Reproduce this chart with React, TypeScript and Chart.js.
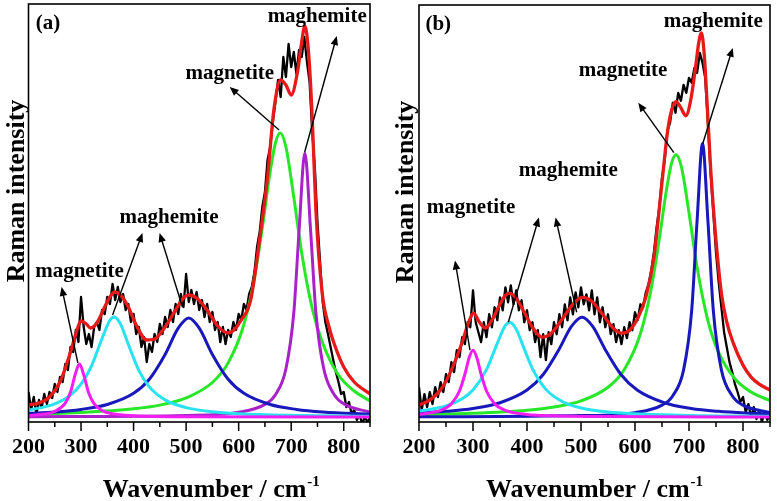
import React, { useEffect, useRef } from "react";
import { Chart, registerables } from "chart.js";

Chart.register(...registerables);

const FONT = '"Liberation Serif", "Times New Roman", serif';

// ---------- axis ticks ----------
const xMajorTicks = [200, 300, 400, 500, 600, 700, 800];
const xAllTicks = [200, 250, 300, 350, 400, 450, 500, 550, 600, 650, 700, 750, 800, 850];

// ---------- measured spectrum (both panels share the wavenumber grid) ----------
const blackX = [200,205,210,215,220,225,230,235,240,245,250,255,260,265,270,275,280,285,290,295,300,305,310,315,320,325,330,335,340,345,350,355,360,365,370,375,380,385,390,395,400,405,410,415,420,425,430,435,440,445,450,455,460,465,470,475,480,485,490,495,500,505,510,515,520,525,530,535,540,545,550,555,560,565,570,575,580,585,590,595,600,605,610,615,620,625,630,635,640,645,650,655,660,665,670,675,680,685,690,695,700,705,710,715,720,725,730,735,740,745,750,755,760,765,770,775,780,785,790,795,800,805,810,815,820,825,830,835,840,845,850];

const blackA = [30,12,25,8,22,14,28,18,30,24,38,30,45,40,58,52,75,70,92,80,125,95,78,88,75,95,100,92,112,108,125,118,138,122,135,120,128,112,118,100,108,88,95,75,85,60,78,70,88,80,98,88,105,95,112,100,118,108,128,115,148,120,132,118,130,112,122,105,118,100,110,92,100,80,95,78,92,85,100,92,108,102,118,112,128,135,150,175,190,215,230,262,275,300,320,342,325,365,345,378,355,370,348,372,365,385,360,340,290,255,200,160,120,100,88,75,62,50,40,28,30,15,20,8,12,2,8,-2,5,0,4];

const blackB = [35,12,28,15,30,18,35,25,40,30,48,40,60,50,72,65,85,78,100,95,132,100,90,80,100,85,108,95,115,102,125,112,135,120,137,118,132,112,122,100,112,92,100,80,92,65,88,62,90,78,100,88,108,95,118,102,125,108,130,115,135,118,128,112,132,108,125,100,115,95,108,88,98,80,92,78,95,84,100,92,110,102,118,115,130,138,152,170,195,215,245,262,292,300,320,310,330,322,338,330,345,340,355,350,370,360,345,300,250,210,170,140,115,90,75,60,50,38,30,20,25,10,18,5,15,3,12,0,10,2,8];

// ---------- panel (a) fitted curves ----------
const fitA_x = [200,220,240,260,280,290,300,310,318,330,345,355,364,375,390,405,425,440,460,480,495,505,520,540,560,580,591,605,623,639,655,667,680,690,700,712,720,726,733,740,747,759,772,782,800,820,850];
const fitA_y = [17,19,25,40,70,88,101,98,94,99,115,125,130,127,115,97,82,83,95,112,124,127,124,112,96,89,92,102,122,179,245,312,342,337,327,350,380,396,370,305,212,129,95,78,55,40,28];

const mag300A_x = [200,230,250,270,280,290,297,305,315,325,340,360,400,500,850];
const mag300A_y = [6.4,7.9,10.5,18.8,29.9,49.5,58,47.4,28.4,18.1,11.4,8.2,6.3,5.3,5];

const cyan365A_x = [200,250,280,300,320,340,355,363,375,390,410,430,460,500,550,600,700,850];
const cyan365A_y = [11.8,18.2,26.9,37.8,56.2,83.5,101.8,105,98.1,77.6,51.7,35.1,22.1,14.4,10.2,8.3,6.7,5.8];

const blue505A_x = [200,250,300,350,400,430,460,485,505,525,550,580,610,660,710,760,850];
const blue505A_y = [8.6,10,12.6,17.5,28.7,42.8,67.6,93.8,104,93.8,67.6,42.8,28.7,17.5,12.6,10,7.8];

const green679A_x = [200,300,400,450,500,550,580,610,630,645,660,670,679,690,705,720,740,760,790,820,850];
const green679A_y = [7.8,9.5,13.2,16.9,24.1,39.5,59.1,97.5,144,194,250.5,279,289,275,224.6,169,113.6,78.8,47,31,21];

const violet726A_x = [200,500,600,650,670,690,705,715,726,737,747,762,782,802,850];
const violet726A_y = [5.3,6.5,9.7,17.6,27.3,53.2,109.5,191,269,191,109.5,53.2,27.3,17.6,9.9];

// ---------- panel (b) fitted curves ----------
const fitB_x = [200,220,240,260,280,292,301,312,323,335,350,360,368,380,395,410,428,445,465,485,502,520,540,560,575,590,605,620,635,650,660,668,676,685,694,703,712,718,723,728,733,740,748,760,770,782,800,815,830,850];
const fitB_y = [17,22,32,52,80,100,109,100,94,102,118,127,129,124,110,95,85,89,103,118,125,121,108,94,89,92,104,125,165,240,290,313,321,315,307,322,355,380,390,370,325,255,195,129,100,79,57,45,38,32];

const mag300B_x = [200,240,260,275,285,293,300,307,315,325,340,360,400,450,550,850];
const mag300B_y = [7.6,11.7,18.4,31.1,47.9,64.7,72,64.7,47.9,31.1,18.4,11.7,7.6,6.2,5.4,5];

const cyan368B_x = [200,250,280,300,325,345,360,368,380,395,411,435,465,500,550,600,700,850];
const cyan368B_y = [10.8,16.1,23.3,32.1,52.5,78.9,96.8,100,93.1,73.1,52.5,32.7,20.6,14.1,10,8.2,6.6,5.75];

const blue502B_x = [200,250,300,350,400,430,460,482,502,522,544,574,604,654,704,754,804,850];
const blue502B_y = [9,10.7,13.6,19.3,32,47.6,73.5,95.6,105,95.6,73.5,47.6,32,19.3,13.6,10.7,9,8.1];

const green676B_x = [200,300,400,450,500,550,580,610,630,645,658,668,676,686,700,715,735,755,785,815,850];
const green676B_y = [7.3,8.7,11.8,15,21.1,34.8,52.4,88.5,133.6,183.3,231.7,260,268,255.7,209.8,155.2,101.7,69.5,43.3,30,21.5];

const blue725B_x = [200,500,600,650,670,690,705,715,725,735,745,760,780,800,850];
const blue725B_y = [5.25,6.4,9.4,16.9,26.4,52.3,111.9,202,279,202,111.9,52.3,26.4,16.9,9.4];

// ---------- annotations (data coordinates: [wavenumber, intensity]) ----------
type Pt = [number, number];
type Arrow = { from: Pt; to: Pt };
type Label = { text: string; at: Pt; size: number };

const arrowsA: Arrow[] = [
  { from: [294, 59], to: [263, 135] },
  { from: [360, 107], to: [417, 189] },
  { from: [493, 115], to: [449.5, 189] },
  { from: [677, 292], to: [583, 335] },
  { from: [725.7, 270], to: [786.7, 386] },
];
const labelsA: Label[] = [
  { text: "(a)", at: [237, 393], size: 21 },
  { text: "maghemite", at: [749.5, 400], size: 21 },
  { text: "magnetite", at: [583, 343], size: 21 },
  { text: "maghemite", at: [467.6, 199], size: 21 },
  { text: "magnetite", at: [297, 145], size: 21 },
];

const arrowsB: Arrow[] = [
  { from: [294.4, 72], to: [266.7, 162] },
  { from: [365.4, 100], to: [422, 205] },
  { from: [492, 110], to: [453, 205] },
  { from: [672, 270], to: [606, 320] },
  { from: [725.4, 279], to: [781, 375] },
];
const labelsB: Label[] = [
  { text: "(b)", at: [235.7, 393], size: 21 },
  { text: "maghemite", at: [745, 396], size: 21 },
  { text: "magnetite", at: [577.8, 347], size: 21 },
  { text: "maghemite", at: [476.5, 247], size: 21 },
  { text: "magnetite", at: [296.3, 210], size: 21 },
];

const C_BLACK = "#000000";
const C_RED = "#e61a1a";
const C_MAGENTA = "#f01ef0";
const C_CYAN = "#28e2f0";
const C_BLUE = "#1818bc";
const C_GREEN = "#28e628";
const C_VIOLET = "#a822c8";

function zip(xs: number[], ys: number[]) {
  return xs.map((x, i) => ({ x, y: ys[i] }));
}

const decorPlugin = {
  id: "decor",
  afterDraw(chart: any, _args: any, opts: any) {
    const ctx: CanvasRenderingContext2D = chart.ctx;
    const area = chart.chartArea;
    const xs = chart.scales.x;
    const ys = chart.scales.y;
    ctx.save();
    ctx.strokeStyle = "#000";
    ctx.fillStyle = "#000";

    // frame
    ctx.lineWidth = 1.6;
    ctx.strokeRect(area.left, area.top, area.right - area.left, area.bottom - area.top);

    // outward ticks
    ctx.lineWidth = 1.5;
    for (const v of xAllTicks) {
      const px = xs.getPixelForValue(v);
      const len = v % 100 === 0 ? 9 : 5;
      ctx.beginPath();
      ctx.moveTo(px, area.bottom);
      ctx.lineTo(px, area.bottom + len);
      ctx.stroke();
    }

    // arrows
    ctx.lineWidth = 1.4;
    for (const a of opts.arrows as Arrow[]) {
      const x1 = xs.getPixelForValue(a.from[0]);
      const y1 = ys.getPixelForValue(a.from[1]);
      const x2 = xs.getPixelForValue(a.to[0]);
      const y2 = ys.getPixelForValue(a.to[1]);
      const ang = Math.atan2(y2 - y1, x2 - x1);
      const L = 9, W = 3.8;
      const c = Math.cos(ang), s = Math.sin(ang);
      ctx.beginPath();
      ctx.moveTo(x1, y1);
      ctx.lineTo(x2 - (L - 2) * c, y2 - (L - 2) * s);
      ctx.stroke();
      ctx.beginPath();
      ctx.moveTo(x2, y2);
      ctx.lineTo(x2 - L * c + W * s, y2 - L * s - W * c);
      ctx.lineTo(x2 - L * c - W * s, y2 - L * s + W * c);
      ctx.closePath();
      ctx.fill();
    }

    // labels
    ctx.textAlign = "center";
    ctx.textBaseline = "alphabetic";
    for (const l of opts.labels as Label[]) {
      ctx.font = `bold ${l.size}px ${FONT}`;
      ctx.fillText(l.text, xs.getPixelForValue(l.at[0]), ys.getPixelForValue(l.at[1]));
    }

    // x title with superscript
    const main = "Wavenumber / cm";
    const sup = "-1";
    ctx.font = `bold 26px ${FONT}`;
    const mw = ctx.measureText(main).width;
    ctx.font = `bold 15px ${FONT}`;
    const sw = ctx.measureText(sup).width;
    const cx = (area.left + area.right) / 2 + opts.titleShift;
    const x0 = cx - (mw + sw + 1) / 2;
    ctx.textAlign = "left";
    ctx.font = `bold 26px ${FONT}`;
    ctx.fillText(main, x0, area.bottom + 75);
    ctx.font = `bold 15px ${FONT}`;
    ctx.fillText(sup, x0 + mw + 1, area.bottom + 64);

    // y title
    ctx.translate(area.left - opts.yTitleGap, area.top + 187);
    ctx.rotate(-Math.PI / 2);
    ctx.textAlign = "center";
    ctx.font = `bold 26px ${FONT}`;
    ctx.fillText("Raman intensity", 0, 0);
    ctx.restore();
  },
};

type Spec = {
  curves: { xs: number[]; ys: number[]; color: string; width: number; smooth: boolean }[];
  arrows: Arrow[];
  labels: Label[];
  yWidth: number;
  padTop: number;
  padRight: number;
  titleShift: number;
  yTitleGap: number;
};

function buildConfig(spec: Spec): any {
  return {
    type: "line",
    data: {
      datasets: spec.curves.map((c) => ({
        data: zip(c.xs, c.ys),
        borderColor: c.color,
        borderWidth: c.width,
        pointRadius: 0,
        fill: false,
        tension: 0,
        borderJoinStyle: "round",
        cubicInterpolationMode: c.smooth ? "monotone" : "default",
      })),
    },
    options: {
      animation: false,
      responsive: false,
      maintainAspectRatio: false,
      events: [],
      layout: { padding: { left: 0, right: spec.padRight, top: spec.padTop, bottom: 0 } },
      plugins: {
        legend: { display: false },
        tooltip: { enabled: false },
        decor: {
          arrows: spec.arrows,
          labels: spec.labels,
          titleShift: spec.titleShift,
          yTitleGap: spec.yTitleGap,
        },
      },
      scales: {
        x: {
          type: "linear",
          min: 200,
          max: 850,
          afterBuildTicks: (axis: any) => {
            axis.ticks = xMajorTicks.map((v) => ({ value: v }));
          },
          afterFit: (s: any) => {
            s.height = 79;
          },
          grid: { display: false, drawTicks: false },
          border: { display: false },
          ticks: {
            color: "#000",
            padding: 12,
            maxRotation: 0,
            autoSkip: false,
            font: { family: FONT, size: 22, weight: "bold" },
          },
        },
        y: {
          type: "linear",
          min: 0,
          max: 418,
          afterFit: (s: any) => {
            s.width = spec.yWidth;
          },
          grid: { display: false, drawTicks: false },
          border: { display: false },
          ticks: { display: false },
        },
      },
    },
    plugins: [decorPlugin],
  };
}

const specA: Spec = {
  curves: [
    { xs: fitA_x, ys: fitA_y, color: C_RED, width: 3.3, smooth: true },
    { xs: mag300A_x, ys: mag300A_y, color: C_MAGENTA, width: 3, smooth: true },
    { xs: cyan365A_x, ys: cyan365A_y, color: C_CYAN, width: 3, smooth: true },
    { xs: blue505A_x, ys: blue505A_y, color: C_BLUE, width: 3, smooth: true },
    { xs: violet726A_x, ys: violet726A_y, color: C_VIOLET, width: 3, smooth: true },
    { xs: green679A_x, ys: green679A_y, color: C_GREEN, width: 3, smooth: true },
    { xs: blackX, ys: blackA, color: C_BLACK, width: 2.3, smooth: false },
  ],
  arrows: arrowsA,
  labels: labelsA,
  yWidth: 28,
  padTop: 4,
  padRight: 15,
  titleShift: 12,
  yTitleGap: 5,
};

const specB: Spec = {
  curves: [
    { xs: fitB_x, ys: fitB_y, color: C_RED, width: 3.3, smooth: true },
    { xs: mag300B_x, ys: mag300B_y, color: C_MAGENTA, width: 3, smooth: true },
    { xs: cyan368B_x, ys: cyan368B_y, color: C_CYAN, width: 3, smooth: true },
    { xs: blue502B_x, ys: blue502B_y, color: C_BLUE, width: 3, smooth: true },
    { xs: blue725B_x, ys: blue725B_y, color: C_BLUE, width: 3, smooth: true },
    { xs: green676B_x, ys: green676B_y, color: C_GREEN, width: 3, smooth: true },
    { xs: blackX, ys: blackB, color: C_BLACK, width: 2.3, smooth: false },
  ],
  arrows: arrowsB,
  labels: labelsB,
  yWidth: 34,
  padTop: 5,
  padRight: 7,
  titleShift: 0,
  yTitleGap: 6,
};

function Panel({ spec, left, width }: { spec: Spec; left: number; width: number }) {
  const ref = useRef<HTMLCanvasElement>(null);
  useEffect(() => {
    const chart = new Chart(ref.current as HTMLCanvasElement, buildConfig(spec));
    return () => chart.destroy();
  }, [spec]);
  return (
    <canvas
      ref={ref}
      width={width}
      height={501}
      style={{ position: "absolute", left, top: 0, width, height: 501, display: "block" }}
    />
  );
}

export default function App() {
  return (
    <div style={{ position: "fixed", left: 0, top: 0, width: 777, height: 501, background: "#ffffff", overflow: "hidden" }}>
      <Panel spec={specA} left={0} width={385} />
      <Panel spec={specB} left={385} width={392} />
    </div>
  );
}
